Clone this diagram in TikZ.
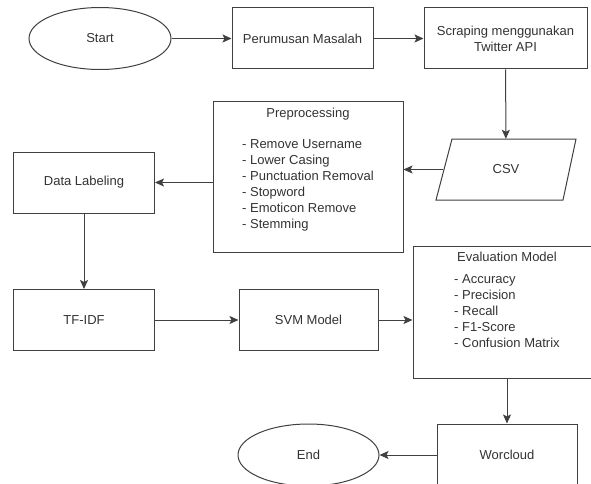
\documentclass[tikz,border=0pt]{standalone}
\usepackage{fontspec}
\setmainfont{Liberation Sans}
\usetikzlibrary{arrows.meta,shapes.geometric}
\definecolor{lc}{HTML}{404040}
\definecolor{tc}{HTML}{333333}
\begin{document}
\begin{tikzpicture}[x=1pt,y=-1pt,
  txt/.style={font=\fontsize{13}{16}\selectfont, text=tc},
  box/.style={txt, draw=lc, line width=1pt, rectangle, minimum width=141pt, minimum height=61pt, inner sep=0pt, align=center},
  oval/.style={txt, draw=lc, line width=1pt, ellipse, minimum width=142pt, minimum height=62pt, inner sep=0pt},
  lbl/.style={txt, inner sep=0pt},
  arr/.style={draw=lc, line width=1pt, -{Stealth[length=9pt,width=8pt,inset=2pt]}}
]
\useasboundingbox (0,0) rectangle (591,484);
\clip (0,0) rectangle (591,484);
\fill[white] (0,0) rectangle (591,484);

% nodes
\node[oval] (start) at (100,38.5) {Start};
\node[box] (perm) at (302.5,38.5) {Perumusan Masalah};
\node[box, minimum width=163pt] (scr) at (505.5,38.5) {Scraping menggunakan\\Twitter API};
\draw[draw=lc, line width=1pt] (452,139) -- (576,139) -- (563,200) -- (436,200) -- cycle;
\node[lbl, minimum width=126pt, minimum height=61pt] (csv) at (506,169.5) {CSV};
\node[box, minimum width=190pt, minimum height=150pt] (pre) at (308,177) {};
\node[lbl, anchor=base] (pret) at (308,117.5) {Preprocessing};
\foreach \t [count=\i] in {Remove Username, Lower Casing, Punctuation Removal, Stopword, Emoticon Remove, Stemming}
  \node[lbl, anchor=base west] (pre\i) at (242,{132.5+16*\i}) {- \t};
\node[box] (dl) at (84,182.5) {Data Labeling};
\node[box] (tfidf) at (84,320) {TF-IDF};
\node[box, minimum width=139pt] (svm) at (308.5,320) {SVM Model};
\node[box, minimum width=188pt, minimum height=132pt] (eval) at (507,312) {};
\node[lbl, anchor=base] (evt) at (507,261.5) {Evaluation Model};
\foreach \t [count=\i] in {Accuracy, Precision, Recall, F1-Score, Confusion Matrix}
  \node[lbl, anchor=base west] (ev\i) at (454,{267+16*\i}) {- \t};
\node[box, minimum width=140pt, minimum height=62pt] (wc) at (507,455) {Worcloud};
\node[oval, minimum width=141pt] (end) at (308.5,455) {End};

% connectors
\draw[arr] (start) -- (perm);
\draw[arr] (perm) -- (scr);
\draw[arr] (scr) -- (csv);
\draw[arr] (csv.west) -- (csv.west -| pre.east);
\draw[arr] (pre.west |- dl.east) -- (dl.east);
\draw[arr] (dl) -- (tfidf);
\draw[arr] (tfidf) -- (svm);
\draw[arr] (svm.east) -- (svm.east -| eval.west);
\draw[arr] (eval) -- (wc);
\draw[arr] (wc) -- (end);
\end{tikzpicture}
\end{document}
